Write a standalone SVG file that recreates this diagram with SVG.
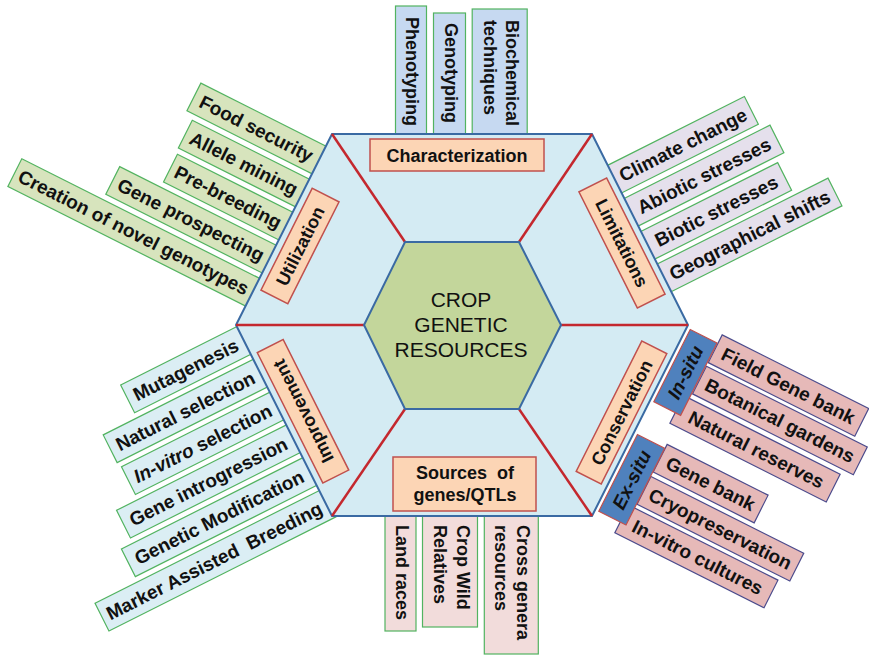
<svg xmlns="http://www.w3.org/2000/svg" width="869" height="655" viewBox="0 0 869 655">
  <style>
    text { font-family: "Liberation Sans", Arial, sans-serif; font-weight: bold; font-size: 18px; fill: #111; }
    .list text { font-size: 19px; }
    .mid { text-anchor: middle; }
    .ctr { font-weight: normal; font-size: 21px; text-anchor: middle; }
    .it { font-style: italic; }
    .pre { white-space: pre; }
    .util { fill: #d7e4bd; stroke: #52b360; stroke-width: 1.2; }
    .lim { fill: #e5e0ec; stroke: #52b360; stroke-width: 1.2; }
    .imp { fill: #dbeef4; stroke: #52b360; stroke-width: 1.2; }
    .cons { fill: #e6b9b8; stroke: #4b4b8c; stroke-width: 1.2; }
    .situ { fill: #4f81bd; stroke: #c0504d; stroke-width: 1.2; }
    .top { fill: #c6d9f1; stroke: #52b360; stroke-width: 1.2; }
    .bot { fill: #f2dcdb; stroke: #52b360; stroke-width: 1.2; }
    .lab { fill: #fcd5b5; stroke: #c0504d; stroke-width: 1.5; }
    .hex { fill: #d4ebf3; stroke: #3a6aa3; stroke-width: 2; }
    .inner { fill: #c3d69b; stroke: #3a6aa3; stroke-width: 2; }
    .spoke { stroke: #c4282e; stroke-width: 2.5; }
  </style>

  <!-- Characterization items (above the top edge) -->
  <g id="phenotyping" transform="translate(411,6) rotate(90)">
    <rect class="top" x="0" y="-15.5" width="128" height="31"/>
    <text x="11" y="5">Phenotyping</text>
  </g>
  <g id="genotyping" transform="translate(449.5,13) rotate(90)">
    <rect class="top" x="0" y="-16" width="121" height="32"/>
    <text x="10" y="5">Genotyping</text>
  </g>
  <g id="biochemical" transform="translate(499.7,9) rotate(90)">
    <rect class="top" x="0" y="-27.5" width="125" height="55"/>
    <text x="11" y="-6.5">Biochemical</text>
    <text x="11" y="16">techniques</text>
  </g>

  <!-- Sources items (below the bottom edge) -->
  <g id="land-races" transform="translate(400.5,514) rotate(90)">
    <rect class="bot" x="0" y="-15.5" width="117" height="31"/>
    <text x="11" y="5">Land races</text>
  </g>
  <g id="crop-wild" transform="translate(450,514) rotate(90)">
    <rect class="bot" x="0" y="-27.5" width="113" height="55"/>
    <text x="11" y="-6.5">Crop Wild</text>
    <text x="11" y="16.5">Relatives</text>
  </g>
  <g id="cross-genera" transform="translate(511.3,514) rotate(90)">
    <rect class="bot" x="0" y="-27" width="140" height="54"/>
    <text x="11" y="-6">Cross genera</text>
    <text x="11" y="16.5">resources</text>
  </g>

  <!-- Utilization items: frame on the upper-left edge -->
  <g class="list" transform="translate(332,134) rotate(26.7)">
    <g id="food-security"><rect class="util" x="-140" y="13.5" width="143" height="31"/><text class="mid" x="-70" y="35.8">Food security</text></g>
    <g id="allele-mining"><rect class="util" x="-131" y="50.5" width="134" height="31"/><text class="mid" x="-65.5" y="72.8">Allele mining</text></g>
    <g id="pre-breeding"><rect class="util" x="-129" y="87.5" width="132" height="31"/><text class="mid" x="-64.5" y="109.8">Pre-breeding</text></g>
    <g id="gene-prospecting"><rect class="util" x="-175" y="124.5" width="178" height="31"/><text class="mid" x="-87.5" y="146.8">Gene prospecting</text></g>
    <g id="novel-genotypes"><rect class="util" x="-266" y="161.5" width="269" height="31"/><text class="mid" x="-133" y="183.8">Creation of novel genotypes</text></g>
  </g>

  <!-- Limitations items: frame on the upper-right edge -->
  <g class="list" transform="translate(592,134) rotate(-26.7)">
    <g id="climate-change"><rect class="lim" x="-3" y="35" width="156" height="31"/><text class="mid" x="76.5" y="57.3">Climate change</text></g>
    <g id="abiotic"><rect class="lim" x="-3" y="72" width="166" height="31"/><text class="mid" x="81.5" y="94.3">Abiotic stresses</text></g>
    <g id="biotic"><rect class="lim" x="-3" y="109" width="156" height="31"/><text class="mid" x="76.5" y="131.3">Biotic stresses</text></g>
    <g id="geographical"><rect class="lim" x="-3" y="145.5" width="194" height="31"/><text class="mid" x="95.5" y="167.8">Geographical shifts</text></g>
  </g>

  <!-- Improvement items: frame on the lower-left edge -->
  <g class="list" transform="translate(236,325) rotate(-26.7)">
    <g id="mutagenesis"><rect class="imp" x="-130" y="1.8" width="133" height="31"/><text class="mid" x="-65" y="24.1">Mutagenesis</text></g>
    <g id="natural-selection"><rect class="imp" x="-168" y="38.5" width="171" height="31"/><text class="mid" x="-84" y="60.8">Natural selection</text></g>
    <g id="in-vitro-selection"><rect class="imp" x="-166" y="75.2" width="169" height="31"/><text class="mid" x="-83" y="97.5"><tspan class="it">In-vitro</tspan> selection</text></g>
    <g id="gene-introgression"><rect class="imp" x="-190" y="111.9" width="193" height="31"/><text class="mid" x="-95" y="134.2">Gene introgression</text></g>
    <g id="genetic-modification"><rect class="imp" x="-203" y="148.6" width="206" height="31"/><text class="mid" x="-101.5" y="170.9">Genetic Modification</text></g>
    <g id="mab"><rect class="imp" x="-251" y="185.3" width="254" height="31"/><text class="mid pre" x="-125.5" y="207.6">Marker Assisted  Breeding</text></g>
  </g>

  <!-- Hexagon wheel -->
  <g id="wheel">
    <polygon class="hex" points="332,134 592,134 688,325 592,516 332,516 236,325"/>
  </g>
  <g id="connectors">
    <line class="spoke" x1="405" y1="242" x2="332" y2="134"/>
    <line class="spoke" x1="519" y1="242" x2="592" y2="134"/>
    <line class="spoke" x1="561" y1="325" x2="688" y2="325"/>
    <line class="spoke" x1="364" y1="325" x2="236" y2="325"/>
    <line class="spoke" x1="405" y1="409" x2="332" y2="516"/>
    <line class="spoke" x1="519" y1="409" x2="592" y2="516"/>
  </g>
  <g id="crop-genetic-resources">
    <polygon class="inner" points="405,242 519,242 561,325 519,409 405,409 364,325"/>
    <text class="ctr" x="461" y="306.5">CROP</text>
    <text class="ctr" x="461" y="331.5">GENETIC</text>
    <text class="ctr" x="461" y="356.5">RESOURCES</text>
  </g>

  <!-- Section labels -->
  <g id="characterization">
    <rect class="lab" x="370" y="139" width="174" height="32"/>
    <text class="mid" x="457" y="161.5">Characterization</text>
  </g>
  <g id="sources">
    <rect class="lab" x="393" y="457" width="143" height="54"/>
    <text class="mid pre" x="465" y="479">Sources  of</text>
    <text class="mid" x="465" y="501">genes/QTLs</text>
  </g>
  <g id="utilization" transform="translate(300,246) rotate(-63.3)">
    <rect class="lab" x="-57" y="-15" width="114" height="30"/>
    <text class="mid" x="0" y="6.5">Utilization</text>
  </g>
  <g id="limitations" transform="translate(622,243) rotate(63.3)">
    <rect class="lab" x="-65" y="-15.5" width="130" height="31"/>
    <text class="mid" x="0" y="6.5">Limitations</text>
  </g>
  <g id="improvement" transform="translate(303,411.3) rotate(-116.7)">
    <rect class="lab" x="-73" y="-14.5" width="146" height="29"/>
    <text class="mid" x="0" y="6.5">Improvement</text>
  </g>
  <g id="conservation" transform="translate(621.5,412.5) rotate(-63.3)">
    <rect class="lab" x="-73" y="-14" width="146" height="28"/>
    <text class="mid" x="0" y="6.5">Conservation</text>
  </g>

  <!-- Conservation items: frame on the lower-right edge -->
  <g class="list" transform="translate(688,325) rotate(26.7)">
    <g id="field-gene-bank"><rect class="cons" x="35" y="-6.5" width="164" height="31"/><text class="mid" x="117" y="15.8">Field Gene bank</text></g>
    <g id="botanical-gardens"><rect class="cons" x="35" y="28.5" width="180" height="31"/><text class="mid" x="125" y="50.8">Botanical gardens</text></g>
    <g id="natural-reserves"><rect class="cons" x="28" y="65" width="175" height="31"/><text class="mid" x="117" y="87.3">Natural reserves</text></g>
    <g id="gene-bank"><rect class="cons" x="35" y="116" width="113" height="31"/><text class="mid" x="91.5" y="138.3">Gene bank</text></g>
    <g id="cryopreservation"><rect class="cons" x="35" y="152" width="171" height="31"/><text class="mid" x="120.5" y="174.3">Cryopreservation</text></g>
    <g id="in-vitro-cultures"><rect class="cons" x="28" y="187.5" width="167" height="31"/><text class="mid" x="113" y="209.8">In-vitro cultures</text></g>
    <g id="in-situ">
      <rect class="situ" x="4" y="3" width="30" height="81"/>
      <text class="mid it" transform="translate(19,43.5) rotate(-90)" x="0" y="6.5">In-situ</text>
    </g>
    <g id="ex-situ">
      <rect class="situ" x="4" y="120.5" width="30.5" height="86"/>
      <text class="mid it" transform="translate(19.25,163.5) rotate(-90)" x="0" y="6.5">Ex-situ</text>
    </g>
  </g>
</svg>
